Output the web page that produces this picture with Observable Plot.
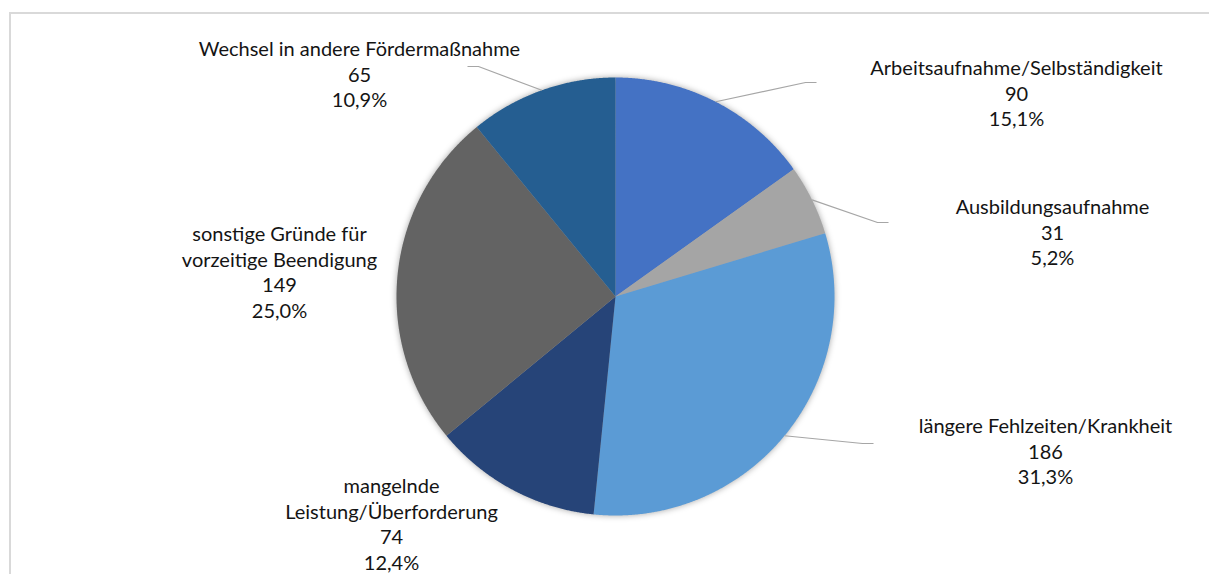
<!DOCTYPE html>
<html>
<head>
<meta charset="utf-8">
<script src="https://cdn.jsdelivr.net/npm/d3@7"></script>
<script src="https://cdn.jsdelivr.net/npm/@observablehq/plot@0.6"></script>
<style>
  html, body { margin: 0; padding: 0; background: #fff; }
  #wrap { position: relative; width: 1209px; height: 574px; overflow: hidden; }
  #frame { position: absolute; left: 9px; top: 12px; width: 1210px; height: 580px;
           border-left: 2px solid #d9d9d9; border-top: 2px solid #d9d9d9; }
  #chart { position: absolute; left: 0; top: 0; }
</style>
</head>
<body>
<div id="wrap"><div id="frame"></div><div id="chart"></div></div>
<script>
// ---- data ----
const categories = [
  "Arbeitsaufnahme/Selbständigkeit",
  "Ausbildungsaufnahme",
  "längere Fehlzeiten/Krankheit",
  "mangelnde Leistung/Überforderung",
  "sonstige Gründe für vorzeitige Beendigung",
  "Wechsel in andere Fördermaßnahme"
];
const labelNames = [
  "Arbeitsaufnahme/Selbständigkeit",
  "Ausbildungsaufnahme",
  "längere Fehlzeiten/Krankheit",
  "mangelnde\nLeistung/Überforderung",
  "sonstige Gründe für\nvorzeitige Beendigung",
  "Wechsel in andere Fördermaßnahme"
];
const counts = [90, 31, 186, 74, 149, 65];
const shares = ["15,1%", "5,2%", "31,3%", "12,4%", "25,0%", "10,9%"];
const colors = ["#4472C4", "#A5A5A5", "#5B9BD5", "#264478", "#636363", "#255E91"];

// ---- layout (pixels) ----
const W = 1209, H = 574;
const CX = 615, CY = 296, R = 219;
const FS = 20, LINE = 25.5;
// label centre x and first baseline y
const labelX = [1016, 1052, 1045, 391, 279, 359];
const labelB = [71, 210, 429, 489, 237, 52];
// leader line elbow & end (null = no leader)
const leaderElbow = [[805, 82], [877, 222], [862, 443], null, null, [478, 66]];
const leaderEnd   = [[816, 82], [888, 222], [873, 443], null, null, [467, 66]];

const ux = px => (px - CX) / R;
const uy = py => (CY - py) / R;

const arcs = d3.pie().sort(null).value(d => d)(counts);

// slice polygons
const slicePts = [];
arcs.forEach((a, i) => {
  const cat = categories[i];
  slicePts.push({cat, x: 0, y: 0});
  const n = Math.max(2, Math.ceil((a.endAngle - a.startAngle) / (Math.PI / 720)));
  for (let k = 0; k <= n; k++) {
    const t = a.startAngle + (a.endAngle - a.startAngle) * k / n;
    slicePts.push({cat, x: Math.sin(t), y: Math.cos(t)});
  }
  slicePts.push({cat, x: 0, y: 0});
});

// leader lines
const leaderPts = [];
arcs.forEach((a, i) => {
  if (!leaderElbow[i]) return;
  const m = (a.startAngle + a.endAngle) / 2;
  const cat = categories[i];
  leaderPts.push({cat, x: Math.sin(m), y: Math.cos(m)});
  leaderPts.push({cat, x: ux(leaderElbow[i][0]), y: uy(leaderElbow[i][1])});
  leaderPts.push({cat, x: ux(leaderEnd[i][0]), y: uy(leaderEnd[i][1])});
});

const labels = categories.map((c, i) => ({
  cat: c,
  text: `${labelNames[i]}\n${counts[i]}\n${shares[i]}`,
  x: ux(labelX[i]),
  y: uy(labelB[i] - 0.71 * FS)
}));

const chart = Plot.plot({
  width: W,
  height: H,
  margin: 0,
  style: {background: "transparent", fontFamily: "Lato, sans-serif"},
  x: {domain: [ux(0), ux(W)], axis: null},
  y: {domain: [uy(H), uy(0)], axis: null},
  color: {domain: categories, range: colors},
  marks: [
    Plot.line(slicePts, {x: "x", y: "y", z: "cat", fill: "cat", stroke: "none"}),
    Plot.line(leaderPts, {x: "x", y: "y", z: "cat", stroke: "#a6a6a6", strokeWidth: 1.2, strokeLinecap: "butt"}),
    Plot.text(labels, {x: "x", y: "y", text: "text", lineAnchor: "top", textAnchor: "middle",
      fontSize: FS, lineHeight: LINE / FS, fill: "#141414", fontFamily: "Lato"})
  ]
});
const sliceGroup = chart.querySelector('g[aria-label="line"]');
if (sliceGroup) sliceGroup.style.filter = "drop-shadow(0 0 3px rgba(0,0,0,0.35))";
document.getElementById("chart").appendChild(chart);
</script>
</body>
</html>
